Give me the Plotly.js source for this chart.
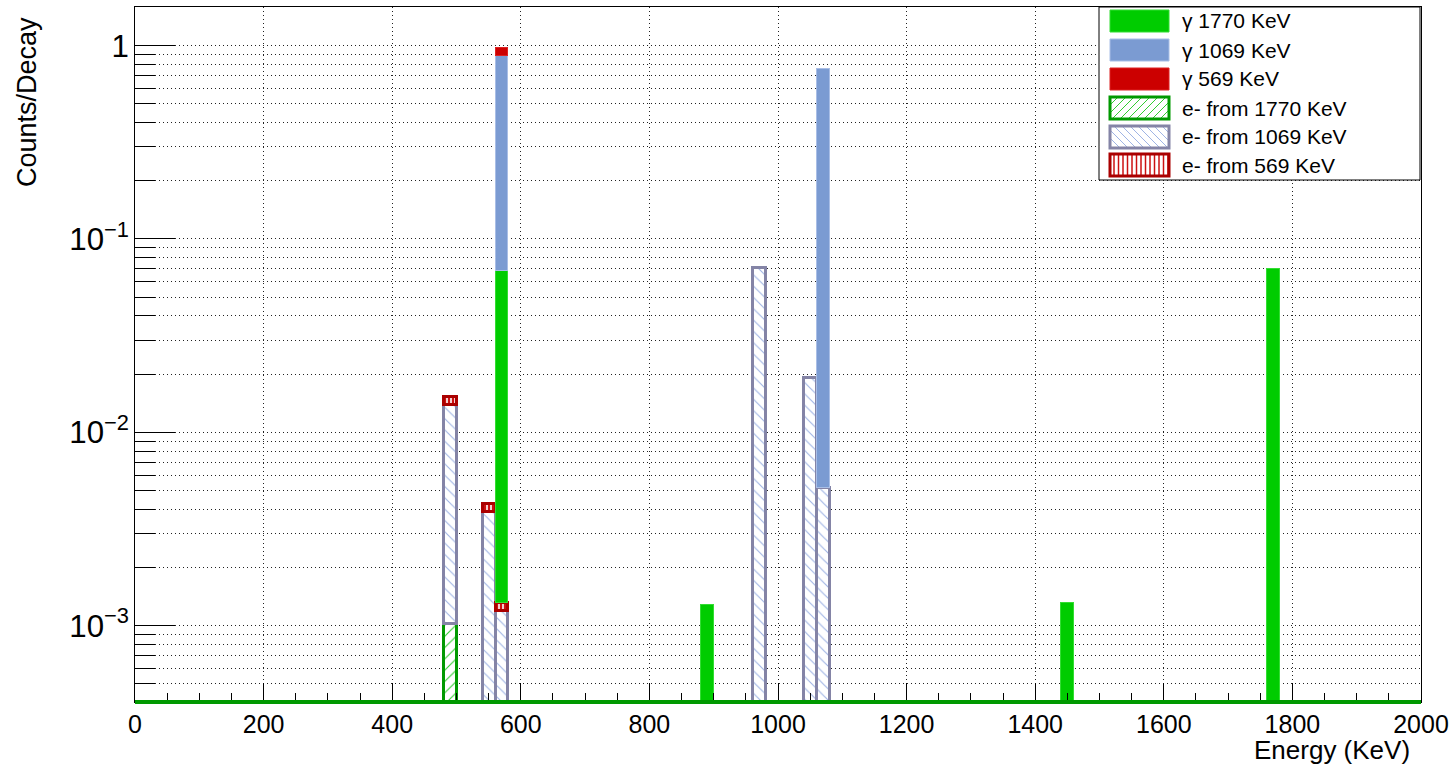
<!DOCTYPE html>
<html>
<head>
<meta charset="utf-8">
<script src="https://cdn.plot.ly/plotly-3.0.1.min.js"></script>
<style>html,body{margin:0;padding:0;background:#fff;}#chart{width:1454px;height:767px;}</style>
</head>
<body>
<div id="chart"></div>
<script>
// ---- data (bin centres in KeV, bin width 20 KeV) ----
const energyBins = [490, 550, 570, 890, 970, 1050, 1070, 1450, 1770];
const eFrom1770  = [0.00103, null, null, null, null, null, null, null, null];
const eFrom1069  = [0.0129, 0.0039, 0.0012, null, 0.0708, 0.0191, 0.0052, null, null];
const eFrom569   = [0.0013, 0.0004, 0.00012, null, null, null, null, null, null];
const gamma1770  = [null, null, 0.0674, 0.00128, null, null, null, 0.00131, 0.0702];
const gamma1069  = [null, null, 0.824, null, null, null, 0.755, null, null];
const gamma569   = [null, null, 0.09, null, null, null, null, null, null];
const binWidth = 20;

const legendNames = ["\u03b3 1770 KeV", "\u03b3 1069 KeV", "\u03b3 569 KeV",
                     "e- from 1770 KeV", "e- from 1069 KeV", "e- from 569 KeV"];

// ---- styles ----
const FONT = "Liberation Sans, Arial, Helvetica, sans-serif";
const GRID = "#222";
const DOTS = "1px,3px";
const sty = {
  g1770: {fill: "#00cc00", line: "#33dd33"},
  g1069: {fill: "#7b9bd2", line: "#a9bee6"},
  g569:  {fill: "#cc0000", line: "#dd2222"},
  e1770: {line: "#009900", hatch: "#33cc33", shape: "/", size: 8, sol: 0.14},
  e1069: {line: "#8484a6", hatch: "#9fb4e4", shape: "\\", size: 8, sol: 0.14},
  e569:  {line: "#aa0000", hatch: "#cc1111", shape: "|", size: 4, sol: 0.6}
};

function hatchBar(y, s, name) {
  return {type: "bar", x: energyBins, y: y, width: binWidth, name: name, showlegend: false,
    marker: {color: "white", line: {color: s.line, width: 3},
      pattern: {shape: s.shape, fgcolor: s.hatch, bgcolor: "white", size: s.size, solidity: s.sol, fillmode: "replace"}},
    hoverinfo: "x+y+name"};
}
function solidBar(y, s, name) {
  return {type: "bar", x: energyBins, y: y, width: binWidth, name: name, showlegend: false,
    marker: {color: s.fill, line: {color: s.line, width: 1}}, hoverinfo: "x+y+name"};
}

// stacking order bottom -> top
const traces = [
  hatchBar(eFrom1770, sty.e1770, legendNames[3]),
  hatchBar(eFrom1069, sty.e1069, legendNames[4]),
  hatchBar(eFrom569, sty.e569, legendNames[5]),
  solidBar(gamma1770, sty.g1770, legendNames[0]),
  solidBar(gamma1069, sty.g1069, legendNames[1]),
  solidBar(gamma569, sty.g569, legendNames[2])
];

// ---- frame geometry (pixels) ----
const W = 1454, H = 767, L = 135, R = 33, T = 7, B = 65;
const PW = W - L - R, PH = H - T - B;
const px = v => (v - L) / PW;          // pixel x -> paper
const py = v => (H - B - v) / PH;      // pixel y -> paper

// ---- manual ROOT-style legend ----
const shapes = [];
const annotations = [];
shapes.push({type: "rect", xref: "paper", yref: "paper", x0: px(1099), x1: px(1420), y0: py(180), y1: py(7),
  fillcolor: "white", line: {color: "black", width: 1}, layer: "above"});
const swX0 = 1110, swX1 = 1169, swH = 22;
const rowY = [21, 50, 79, 108, 137, 165];
const legendStyles = [sty.g1770, sty.g1069, sty.g569, sty.e1770, sty.e1069, sty.e569];
function seg(x0, y0, x1, y1, color, w) {
  shapes.push({type: "line", xref: "paper", yref: "paper", x0: px(x0), y0: py(y0), x1: px(x1), y1: py(y1),
    line: {color: color, width: w}, layer: "above"});
}
legendStyles.forEach((s, i) => {
  const yc = rowY[i], top = yc - swH / 2, bot = yc + swH / 2;
  if (s.fill) {
    shapes.push({type: "rect", xref: "paper", yref: "paper", x0: px(swX0), x1: px(swX1), y0: py(bot), y1: py(top),
      fillcolor: s.fill, line: {color: s.line, width: 1}, layer: "above"});
  } else {
    const w = swX1 - swX0, h = swH, sp = 8;
    if (s.shape === "|") {
      for (let u = 4; u < w; u += 4.5) seg(swX0 + u, top, swX0 + u, bot, s.hatch, 1.5);
    } else {
      for (let c = -h; c < w + h; c += sp) {
        let u0, u1;
        if (s.shape === "/") { u0 = Math.max(c, 0); u1 = Math.min(w, h + c); if (u1 <= u0) continue;
          seg(swX0 + u0, bot - (u0 - c), swX0 + u1, bot - (u1 - c), s.hatch, 1); }
        else { u0 = Math.max(0, c - h); u1 = Math.min(w, c); if (u1 <= u0) continue;
          seg(swX0 + u0, bot - (c - u0), swX0 + u1, bot - (c - u1), s.hatch, 1); }
      }
    }
    shapes.push({type: "rect", xref: "paper", yref: "paper", x0: px(swX0), x1: px(swX1), y0: py(bot), y1: py(top),
      fillcolor: "rgba(0,0,0,0)", line: {color: s.line, width: 3}, layer: "above"});
  }
  annotations.push({xref: "paper", yref: "paper", x: px(1180), y: py(yc), xanchor: "left", yanchor: "middle",
    text: legendNames[i], showarrow: false, font: {family: FONT, size: 21, color: "black"}});
});

// green baseline (outline of the bottom histogram at zero)
shapes.push({type: "line", xref: "paper", yref: "paper", x0: 0, x1: 1, y0: 0, y1: 0,
  line: {color: "#009900", width: 4}, layer: "above"});

// axis titles (ROOT style: aligned to the axis end)
annotations.push({xref: "paper", yref: "paper", x: px(1412), y: py(767), xanchor: "right", yanchor: "bottom",
  text: "Energy (KeV)", showarrow: false, font: {family: FONT, size: 26, color: "black"}});
annotations.push({xref: "paper", yref: "paper", x: px(27), y: py(15), xanchor: "center", yanchor: "top",
  textangle: -90, text: "Counts/Decay", showarrow: false, font: {family: FONT, size: 27, color: "black"}});

const layout = {
  width: W, height: H,
  margin: {l: L, r: R, t: T, b: B},
  paper_bgcolor: "white", plot_bgcolor: "white",
  barmode: "stack", bargap: 0,
  showlegend: false,
  font: {family: FONT, color: "black"},
  xaxis: {
    range: [0, 2000], tickmode: "linear", tick0: 0, dtick: 200,
    ticks: "inside", ticklen: 19, tickcolor: "black", tickwidth: 1,
    showline: true, linecolor: "black", linewidth: 1, mirror: true,
    showgrid: true, gridcolor: GRID, griddash: DOTS, gridwidth: 1,
    zeroline: false, tickfont: {family: FONT, size: 25, color: "black"},
    minor: {dtick: 50, ticks: "inside", ticklen: 9, tickcolor: "black", showgrid: false}
  },
  yaxis: {
    type: "log", range: [-3.395, 0.2], tickmode: "linear", tick0: 0, dtick: 1,
    exponentformat: "power",
    ticks: "inside", ticklen: 40, tickcolor: "black", tickwidth: 1,
    showline: true, linecolor: "black", linewidth: 1, mirror: true,
    showgrid: true, gridcolor: GRID, griddash: DOTS, gridwidth: 1,
    zeroline: false, tickfont: {family: FONT, size: 25, color: "black"},
    minor: {dtick: "D1", ticks: "inside", ticklen: 20, tickcolor: "black", showgrid: true,
            gridcolor: GRID, griddash: DOTS, gridwidth: 1}
  },
  shapes: shapes,
  annotations: annotations
};

Plotly.newPlot("chart", traces, layout, {displayModeBar: false, staticPlot: true});
</script>
</body>
</html>
